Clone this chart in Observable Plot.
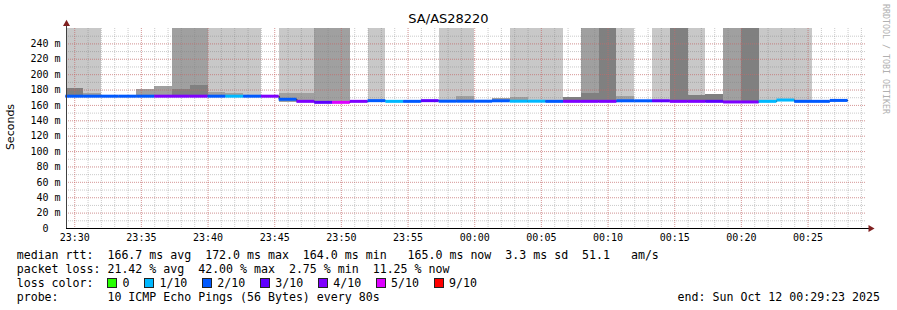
<!DOCTYPE html>
<html><head><meta charset="utf-8">
<script src="https://cdn.jsdelivr.net/npm/d3@7"></script>
<script src="https://cdn.jsdelivr.net/npm/@observablehq/plot@0.6"></script>
<style>
body{margin:0;background:#fff;}
#wrap{position:relative;width:897px;height:310px;background:#fff;overflow:hidden;}
.t{position:absolute;white-space:pre;font-family:"DejaVu Sans Mono",monospace;font-size:11.6px;color:#000;line-height:14px;height:14px;}
.sq{display:inline-block;width:10px;height:10px;box-sizing:border-box;border:1px solid #222;margin-right:5px;}
.lab{margin-right:15px;}
</style></head><body><div id="wrap"></div>
<script>
// ---- data ----
const title = "SA/AS28220";
const yLabel = "Seconds";
const sideText = "RRDTOOL / TOBI OETIKER";
const stepSeconds = 80;
const firstStep = "2025-10-11T23:29:20Z";
const rangeStart = "2025-10-11T23:29:23Z";
const rangeEnd = "2025-10-12T00:29:23Z";
const yMax = 260;

// median rtt per 80 s step (ms)
const medianRtt = [172,172,172,172,172,172,172,172,172,172,172,172,
  168,165.3,164,164,165.3,166.2,165.3,165.3,166.2,165.5,165.5,165.5,166,165.5,165.5,165.3,
  165.3,165.3,165.3,166,166,166,165.3,165.3,165.3,164.5,164.5,165.3,167,165.3,165.3,166.5];
// loss bin (index into lossLabels)
const lossBin = [2,2,2,2,2,4,4,4,2,1,2,4,
  2,4,3,5,4,2,1,2,3,2,2,2,2,1,1,2,4,4,4,2,2,3,4,4,3,4,4,1,1,2,2,2];
// smoke reaching the top of the chart: L light, M medium, D dark, "" none
const smokeTall = ["L","L","","","","","M","M","L","L","L","",
  "L","L","M","M","","L","","","","L","L","","","L","L","L","","M","D","L","","L","D","L","","M","D","L","L","L","",""];
// inner smoke band top (ms)
const bandTop = [181.5,175,null,null,181,184.4,181,185.7,176.6,175,null,null,
  175,175,null,null,null,null,null,null,null,null,171.4,null,168.8,170,null,null,170,175.7,null,171.4,null,null,null,172.7,174,null,null,null,null,null,null,null];
const bandShade = ["D","M","","","M","M","D","D","M","M","","",
  "M","M","","","","","","","","","M","","M","M","","","D","D","","M","","","","D","D","","","","","","",""];
// lowest ping per step (ms)
const minPing = [171,171,171,171,171,171,171,171,171,171,171,171,
  164,164,163,163,164,165,164,164,165,164,164,164,164.5,164,164,164,164,164,164,164.5,164.5,164.5,164,164,164,163,163,164,165.5,164,164,165];

const lossLabels = ["0","1/10","2/10","3/10","4/10","5/10","9/10"];
const lossColors = ["#26ff00","#00b8ff","#0059ff","#5e00ff","#7e00ff","#dd00ff","#ff0000"];
const shades = {L:"#c8c8c8", M:"#a0a0a0", D:"#808080"};
const yTicks = [0,20,40,60,80,100,120,140,160,180,200,220,240];

const statsMedian = "median rtt:  166.7 ms avg  172.0 ms max  164.0 ms min   165.0 ms now  3.3 ms sd  51.1   am/s";
const statsLoss = "packet loss: 21.42 % avg  42.00 % max  2.75 % min  11.25 % now";
const lossColorLabel = "loss color:  ";
const probeText = "probe:       10 ICMP Echo Pings (56 Bytes) every 80s";
const endText = "end: Sun Oct 12 00:29:23 2025";

// ---- build ----
const t0 = new Date(firstStep).getTime();
const steps = medianRtt.map((m, i) => ({
  x1: new Date(t0 + i * stepSeconds * 1000),
  x2: new Date(t0 + (i + 1) * stepSeconds * 1000),
  median: m, loss: lossBin[i], tall: smokeTall[i], band: bandTop[i], bandShade: bandShade[i], min: minPing[i]
}));
const linePts = steps.map(d => ({x: d.x1, y: d.median}));
linePts.push({x: steps[steps.length - 1].x2, y: steps[steps.length - 1].median});

const xStart = new Date(rangeStart), xEnd = new Date(rangeEnd);
const minuteTicks = d3.utcMinute.range(xStart, xEnd);
const fiveTicks = d3.utcMinute.every(5).range(xStart, xEnd);
const yMinor = d3.range(10, yMax, 10);
const yMajor = d3.range(20, yMax, 20);
const arrowX = new Date(xEnd.getTime() + 18000);

const gridGray = "rgba(128,128,128,0.42)";
const gridRed = "rgba(240,90,90,0.42)";

const chart = Plot.plot({
  width: 897, height: 310,
  marginLeft: 66, marginRight: 31, marginTop: 28, marginBottom: 82,
  style: {background: "white", fontFamily: "DejaVu Sans Mono", fontSize: "10px", color: "#000", overflow: "visible"},
  x: {type: "utc", domain: [xStart, xEnd], label: null},
  y: {domain: [0, yMax], label: null},
  color: {type: "identity"},
  marks: [
    Plot.rect(steps.filter(d => d.tall), {x1: "x1", x2: "x2", y1: "min", y2: yMax, fill: d => shades[d.tall], clip: true, shapeRendering: "crispEdges"}),
    Plot.rect(steps.filter(d => d.band != null), {x1: "x1", x2: "x2", y1: "min", y2: "band", fill: d => shades[d.bandShade], clip: true, shapeRendering: "crispEdges"}),
    Plot.ruleY(yMinor, {stroke: gridGray, strokeDasharray: "1,1"}),
    Plot.ruleX(minuteTicks, {stroke: gridGray, strokeDasharray: "1,1"}),
    Plot.ruleY(yMajor, {stroke: gridRed, strokeDasharray: "1,1"}),
    Plot.ruleX(fiveTicks, {stroke: gridRed, strokeDasharray: "1,1"}),
    Plot.line(linePts, {x: "x", y: "y", curve: "step-after", stroke: "#202020", strokeWidth: 1}),
    Plot.ruleY(steps, {y: "median", x1: "x1", x2: "x2", stroke: d => lossColors[d.loss], strokeWidth: 3}),
    Plot.ruleX([xStart], {y1: 0, y2: 266, stroke: "#404040"}),
    Plot.ruleY([0], {x1: xStart, x2: arrowX, stroke: "#000"}),
    Plot.dot([{x: xStart, y: 266}], {x: "x", y: "y", symbol: "triangle", r: 2.6, fill: "#802020", stroke: null}),
    Plot.dot([{x: arrowX, y: 0}], {x: "x", y: "y", symbol: "triangle", rotate: 90, r: 2.6, fill: "#802020", stroke: null}),
    Plot.axisY({ticks: yTicks, tickSize: 0, tickPadding: 6, tickFormat: d => d === 0 ? "0\u00a0\u00a0" : d + " m"}),
    Plot.axisX({ticks: fiveTicks, tickSize: 0, tickPadding: 5, tickFormat: d3.utcFormat("%H:%M")})
  ]
});

const wrap = document.getElementById("wrap");
wrap.appendChild(chart);

function addDiv(text, style, cls) {
  const d = document.createElement("div");
  d.className = cls || "t";
  d.textContent = text;
  Object.assign(d.style, style);
  wrap.appendChild(d);
  return d;
}
addDiv(title, {left: "0px", top: "11px", width: "897px", textAlign: "center", fontFamily: "'DejaVu Sans'", fontSize: "13px", lineHeight: "16px", height: "16px"});
addDiv(yLabel, {left: "-39px", top: "120px", width: "100px", textAlign: "center", fontFamily: "'DejaVu Sans'", fontSize: "11px", transform: "rotate(-90deg)", transformOrigin: "50% 50%"});
addDiv(sideText, {left: "891px", top: "4px", fontSize: "8.3px", lineHeight: "10px", height: "10px", color: "#b0b0b0", transform: "rotate(90deg)", transformOrigin: "0 0"});
addDiv(statsMedian, {left: "16.7px", top: "248px"});
addDiv(statsLoss, {left: "16.7px", top: "261.5px"});
const row = addDiv("", {left: "16.7px", top: "275.7px", display: "flex", alignItems: "center"});
const head = document.createElement("span"); head.textContent = lossColorLabel; row.appendChild(head);
lossLabels.forEach((l, i) => {
  const s = document.createElement("span"); s.className = "sq"; s.style.background = lossColors[i]; row.appendChild(s);
  const t = document.createElement("span"); t.className = "lab"; t.textContent = l; row.appendChild(t);
});
addDiv(probeText, {left: "16.7px", top: "289.7px"});
addDiv(endText, {right: "17px", top: "289.7px"});
</script>
</body></html>
